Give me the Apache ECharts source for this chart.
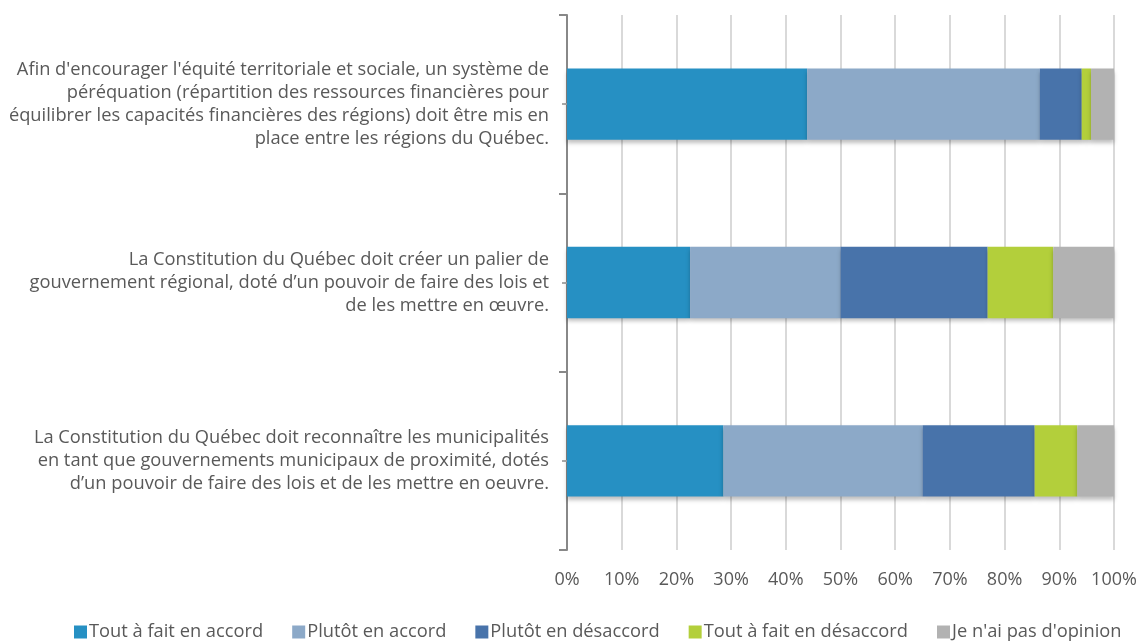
<!DOCTYPE html>
<html>
<head>
<meta charset="utf-8">
<script src="https://cdn.jsdelivr.net/npm/echarts@6/dist/echarts.min.js"></script>
<style>html,body{margin:0;padding:0;background:#fff}#c{width:1137px;height:642px}</style>
</head>
<body>
<div id="c"></div>
<script>
var categories = [
  "Afin d'encourager l'équité territoriale et sociale, un système de\npéréquation (répartition des ressources financières pour\néquilibrer les capacités financières des régions) doit être mis en\nplace entre les régions du Québec.",
  "La Constitution du Québec doit créer un palier de\ngouvernement régional, doté d’un pouvoir de faire des lois et\nde les mettre en œuvre.",
  "La Constitution du Québec doit reconnaître les municipalités\nen tant que gouvernements municipaux de proximité, dotés\nd’un pouvoir de faire des lois et de les mettre en oeuvre."
];
var seriesNames = ["Tout à fait en accord", "Plutôt en accord", "Plutôt en désaccord", "Tout à fait en désaccord", "Je n'ai pas d'opinion"];
var toutAccord = [43.9, 22.5, 28.6];
var plutotAccord = [42.5, 27.5, 36.4];
var plutotDesaccord = [7.7, 26.9, 20.5];
var toutDesaccord = [1.7, 12.0, 7.8];
var sansOpinion = [4.2, 11.1, 6.7];
var xTicks = [0, 10, 20, 30, 40, 50, 60, 70, 80, 90, 100];

var colors = ["#2690c3", "#8ca9c8", "#4873aa", "#b3cf3b", "#b2b2b2"];
var values = [toutAccord, plutotAccord, plutotDesaccord, toutDesaccord, sansOpinion];

var chart = echarts.init(document.getElementById('c'));
var series = seriesNames.map(function (n, i) {
  return {
    name: n, type: 'bar', stack: 'total', barWidth: '40%',
    data: values[i],
    itemStyle: { color: colors[i], shadowColor: 'rgba(0,0,0,0.25)', shadowBlur: 4, shadowOffsetY: 3 }
  };
});
chart.setOption({
  animation: false,
  textStyle: { fontFamily: 'Open Sans' },
  color: colors,
  grid: { left: 567, right: 23, top: 15, bottom: 92, outerBoundsMode: 'none', containLabel: false },
  legend: {
    bottom: -4, left: 69, itemWidth: 13, itemHeight: 13, itemGap: 29,
    icon: 'rect',
    textStyle: { fontSize: 18.3, color: '#595959', fontFamily: 'Open Sans', padding: [0, 0, 0, -3] },
    data: seriesNames
  },
  xAxis: {
    type: 'value', min: xTicks[0], max: xTicks[xTicks.length - 1], interval: 10,
    axisLine: { show: false }, axisTick: { show: false },
    splitLine: { lineStyle: { color: '#d9d9d9', width: 2 } },
    axisLabel: { formatter: '{value}%', fontSize: 18, color: '#595959', margin: 21 }
  },
  yAxis: [{
    type: 'category', data: categories, inverse: true,
    axisLine: { lineStyle: { color: '#888888', width: 2 } },
    axisTick: { show: true, length: 8, inside: false, lineStyle: { color: '#888888', width: 2 } },
    axisLabel: { fontSize: 18.3, color: '#595959', lineHeight: 23, margin: 18, align: 'right' }
  }, {
    type: 'category', data: categories, inverse: true, position: 'left',
    axisLine: { show: false },
    axisTick: { show: true, alignWithLabel: true, length: 5, lineStyle: { color: '#aaaaaa', width: 2 } },
    axisLabel: { show: false }
  }],
  series: series
});
</script>
</body>
</html>
